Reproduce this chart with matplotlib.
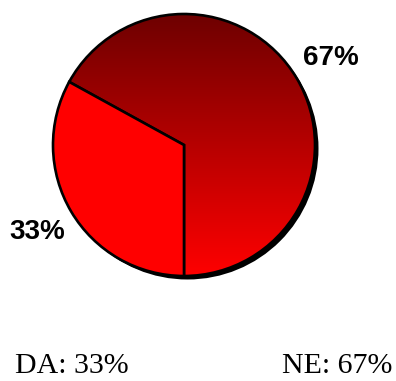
import numpy as np
import matplotlib.pyplot as plt
from matplotlib.colors import LinearSegmentedColormap
from matplotlib.patches import Circle

labels = ['NE', 'DA']
shares = [67, 33]

W, H = 396, 381
cx, cy, r = 184, H - 145, 131

fig = plt.figure(figsize=(W / 100, H / 100), dpi=100)
ax = fig.add_axes([0, 0, 1, 1])

# drop shadow behind the pie
ax.add_patch(Circle((cx + 3.5, cy - 3.5), r, facecolor='black', edgecolor='none', zorder=0))

wedges, texts, autotexts = ax.pie(
    shares, center=(cx, cy), radius=r, startangle=-90, counterclock=True,
    colors=['#FF0000', '#FF0000'], autopct='%d%%', pctdistance=1.3,
    wedgeprops=dict(edgecolor='black', linewidth=1.9),
    textprops=dict(family='Liberation Sans', weight='bold', size=20),
    frame=True)
ax.set_xlim(0, W)
ax.set_ylim(0, H)
ax.set_aspect('equal')
ax.axis('off')

# vertical dark-to-bright gradient in the big slice
cmap = LinearSegmentedColormap.from_list('red_grad', ['#FF0000', '#6E0000'])
grad = np.linspace(0, 1, 256).reshape(-1, 1)
img = ax.imshow(grad, cmap=cmap, origin='lower', aspect='auto',
                extent=(cx - r, cx + r, cy - r, cy + r), zorder=1)
img.set_clip_path(wedges[0])
wedges[0].set_facecolor('none')
wedges[0].set_zorder(2)
wedges[1].set_zorder(2)

# legend line at the bottom
ax.text(15, H - 373, f'{labels[1]}: {shares[1]}%', family='Liberation Serif',
        size=21.5, ha='left', va='baseline')
ax.text(392, H - 373, f'{labels[0]}: {shares[0]}%', family='Liberation Serif',
        size=21.5, ha='right', va='baseline')

fig.savefig('out.png', dpi=100)
